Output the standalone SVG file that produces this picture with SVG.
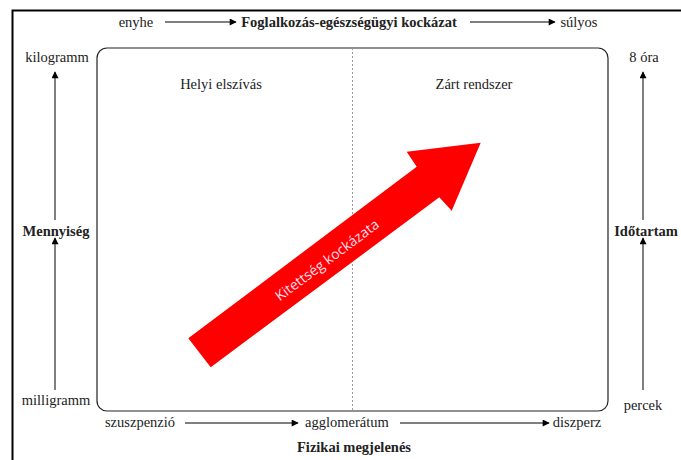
<svg xmlns="http://www.w3.org/2000/svg" width="681" height="460" viewBox="0 0 681 460">
<style>
text{font-family:"Liberation Serif","Times New Roman",serif;font-size:14.5px;fill:#222}
.b{font-weight:bold}
.m{text-anchor:middle}
.c{stroke:#000;stroke-width:1;fill:none}
</style>
<defs>
<marker id="ah" viewBox="0 0 10 10" refX="9" refY="5" markerWidth="8" markerHeight="7" markerUnits="userSpaceOnUse" orient="auto">
<path d="M0,0 L10,5 L0,10 z" fill="#000"/>
</marker>
</defs>
<rect width="681" height="460" fill="#fff"/>
<path d="M12.5,460 V10.5 H681" stroke="#000" stroke-width="2" fill="none"/>
<g id="box">
<rect x="97" y="48" width="511" height="363" rx="10" fill="none" stroke="#222" stroke-width="1.2"/>
<line x1="352.5" y1="48" x2="352.5" y2="411" stroke="#999" stroke-width="1" stroke-dasharray="2,2"/>
</g>
<g id="top-axis">
<text x="136" y="27" class="m">enyhe</text>
<text x="349" y="27" class="m b">Foglalkozás-egészségügyi kockázat</text>
<text x="579" y="27" class="m">súlyos</text>
</g>
<g id="left-axis">
<text x="57" y="62" class="m">kilogramm</text>
<text x="56" y="236" class="m b">Mennyiség</text>
<text x="56" y="405" class="m">milligramm</text>
</g>
<g id="right-axis">
<text x="644" y="62" class="m">8 óra</text>
<text x="646" y="236" class="m b">Időtartam</text>
<text x="643" y="410" class="m">percek</text>
</g>
<g id="bottom-axis">
<text x="140" y="427" class="m">szuszpenzió</text>
<text x="347" y="427" class="m">agglomerátum</text>
<text x="577" y="427" class="m">diszperz</text>
<text x="354" y="452" class="m b">Fizikai megjelenés</text>
</g>
<g id="zones">
<text x="221" y="89" class="m">Helyi elszívás</text>
<text x="474" y="89" class="m">Zárt rendszer</text>
</g>
<g id="connectors">
<line class="c" x1="165" y1="22" x2="236" y2="22" marker-end="url(#ah)"/>
<line class="c" x1="470" y1="22" x2="555" y2="22" marker-end="url(#ah)"/>
<line class="c" x1="55" y1="220" x2="55" y2="72" marker-end="url(#ah)"/>
<line class="c" x1="55" y1="390" x2="55" y2="238" marker-end="url(#ah)"/>
<line class="c" x1="643" y1="220" x2="643" y2="72" marker-end="url(#ah)"/>
<line class="c" x1="643" y1="390" x2="643" y2="238" marker-end="url(#ah)"/>
<line class="c" x1="185" y1="423" x2="298" y2="423" marker-end="url(#ah)"/>
<line class="c" x1="400" y1="423" x2="549" y2="423" marker-end="url(#ah)"/>
</g>
<g id="risk-arrow">
<path d="M188.3,338.3 L416.7,166.7 L406.7,151.7 L480.7,142.7 L451.7,210.7 L439.3,197.3 L210.7,367.3 Z" fill="#f00"/>
<text x="327" y="265" transform="rotate(-36.8 327 260)" text-anchor="middle" style="font-family:'Open Sans','Liberation Sans',sans-serif;font-size:14px;fill:#fde">Kitettség kockázata</text>
</g>
</svg>
